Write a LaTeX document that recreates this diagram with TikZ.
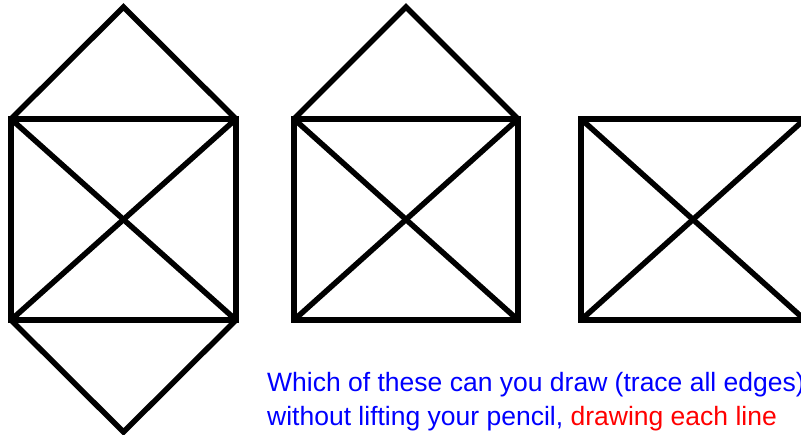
\documentclass[tikz,border=0pt]{standalone}
\usepackage{fontspec}
\setmainfont{Liberation Sans}
\definecolor{qblue}{RGB}{0,0,255}
\definecolor{qred}{RGB}{255,0,0}
\usetikzlibrary{positioning}
\tikzset{
  edge/.style={line width=5.5pt, black},
  question/.style={font=\fontsize{26.5}{34}\selectfont, inner sep=0pt, anchor=base west}
}
\begin{document}
\begin{tikzpicture}[x=1pt, y=-1pt]
  \useasboundingbox (0,0) rectangle (801,434);
  \clip (0,0) rectangle (801,434);

  %% Figure 1: square with two roofs
  \coordinate (a1) at (11,119);
  \coordinate (b1) at (236,119);
  \coordinate (c1) at (236,320);
  \coordinate (d1) at (11,320);
  \coordinate (top1) at (123.5,7);
  \coordinate (bot1) at (123.5,432);
  \draw[edge] (a1) -- (b1) -- (c1) -- (d1) -- cycle;
  \draw[edge] (a1) -- (c1);
  \draw[edge] (b1) -- (d1);
  \draw[edge] (a1) -- (top1) -- (b1);
  \draw[edge] (d1) -- (bot1) -- (c1);

  %% Figure 2: square with one roof
  \coordinate (a2) at (294,119);
  \coordinate (b2) at (518,119);
  \coordinate (c2) at (518,320);
  \coordinate (d2) at (294,320);
  \coordinate (top2) at (406,7);
  \draw[edge] (a2) -- (b2) -- (c2) -- (d2) -- cycle;
  \draw[edge] (a2) -- (c2);
  \draw[edge] (b2) -- (d2);
  \draw[edge] (a2) -- (top2) -- (b2);

  %% Figure 3: square without right side
  \coordinate (a3) at (581,119);
  \coordinate (b3) at (805,119);
  \coordinate (c3) at (805,320);
  \coordinate (d3) at (581,320);
  \draw[edge] (b3) -- (a3) -- (d3) -- (c3);
  \draw[edge] (a3) -- (c3);
  \draw[edge] (b3) -- (d3);

  %% Question
  \node[question, text=qblue] (line1) at (267,391) {Which of these can you draw (trace all edges)};
  \node[question, text=qblue] (line2) at (267,425) {without lifting your pencil, \textcolor{qred}{drawing each line}};
\end{tikzpicture}
\end{document}
